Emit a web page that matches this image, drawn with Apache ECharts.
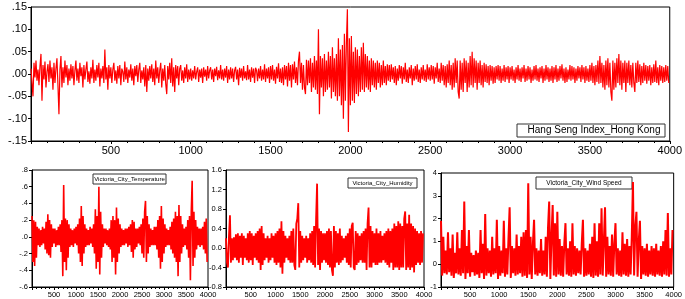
<!DOCTYPE html>
<html>
<head>
<meta charset="utf-8">
<script src="https://cdn.jsdelivr.net/npm/echarts@6/dist/echarts.min.js"></script>
<style>
    html, body { margin: 0; padding: 0; background: #fff; }
    #chart { width: 685px; height: 299px; }
</style>
</head>
<body>
<div id="chart"></div>
<script>
// 数据：每个序列按固定步长取样 (观测序号 = 下标 * 步长)
const hsiStep = 6.25;
const cityStep = 20;

// Hang Seng Index_Hong Kong 收益率
const hsiReturns = [
    .012, -.02, -.05, .025, -.008, .03, -.015, .01, -.025, .018, .045, -.06, .02, -.012, .028, -.03, .005, .022, -.018, .03,
    -.01, .015, -.035, .025, -.02, .012, .035, -.025, -.09, .01, .04, -.03, .015, -.02, .03, -.008, .02, -.025, .012, -.015,
    .022, -.01, .018, -.025, .008, .03, -.015, .012, -.02, .025, -.005, .015, -.03, .02, -.012, .01, .028, -.018, .006, -.022,
    .015, -.01, .032, -.02, .01, -.015, .02, -.008, .025, -.028, .012, -.01, .018, -.02, .055, -.012, .015, -.035, .02, -.01,
    .015, -.02, .01, .025, -.015, .008, -.022, .018, -.01, .02, -.025, .012, .005, -.018, .028, -.012, .015, -.02, .01, -.008,
    .022, -.015, .012, -.025, .018, -.005, .02, -.018, .01, .025, -.02, .008, -.012, .015, -.028, .02, -.04, .012, -.015, .018,
    -.01, .022, -.018, .012, -.025, .03, -.01, .015, -.02, .008, .025, -.03, .012, -.015, .02, -.022, -.045, .018, -.012, .025,
    -.02, .035, -.028, .015, -.04, .02, -.01, .018, -.025, .012, .02, -.015, .008, -.02, .015, -.01, .022, -.018, .01, -.012,
    .012, -.015, .008, -.01, .018, -.012, .005, .015, -.018, .01, -.008, .012, -.02, .015, -.006, .01, -.015, .018, -.01, .008,
    .015, -.012, .01, -.018, .012, -.005, .016, -.014, .008, -.01, .02, -.012, .01, -.015, .012, -.008, .018, -.02, .01, -.012,
    .015, -.01, .012, -.018, .008, .016, -.012, .01, -.025, .014, -.008, .012, -.015, .018, -.01, .006, -.014, .02, -.012, .01,
    -.018, .015, -.008, .012, -.02, .014, .008, -.016, .012, -.01, .018, -.015, .01, -.012, .022, -.018, .012, -.01, .015, -.02,
    .018, -.012, .02, -.015, .01, -.022, .016, -.01, .024, -.018, .012, -.02, .015, -.025, .02, -.012, .018, -.028, .025, -.015,
    .02, -.03, .022, -.012, .028, -.02, .015, -.025, .03, .05, -.02, .025, -.035, .02, -.03, -.045, .032, -.025, .03, -.02,
    .035, -.04, .025, -.03, .04, -.035, .03, -.045, .1, -.09, .04, -.03, .035, -.05, .045, -.04, .03, -.035, .05, -.03,
    .04, -.055, .06, -.04, .035, -.05, .045, -.06, .08, -.05, .055, -.07, .065, -.1, .09, -.06, .07, .145, -.13, .08,
    -.07, .085, -.06, .05, -.065, .06, -.045, .055, -.05, .04, -.04, .06, -.035, .07, -.04, .045, -.03, .04, -.035, .03,
    -.04, .035, -.025, .03, -.03, .025, -.035, .03, -.02, .025, -.03, .02, -.025, .03, -.02, .018, -.025, .022, -.015, .02,
    -.018, .022, -.012, .015, -.02, .018, -.025, .012, -.015, .02, -.01, .018, -.022, .015, -.012, .025, -.018, .01, -.02, .015,
    -.01, .02, -.025, .012, -.015, .018, -.012, .022, -.018, .01, -.02, .015, -.012, .02, -.015, .01, -.018, .022, -.012, .015,
    -.015, .02, -.012, .018, -.022, .015, -.01, .025, -.018, .012, -.02, .025, -.015, .02, -.025, .018, -.03, .022, -.02, .03,
    -.025, .02, -.035, .025, -.03, .035, -.02, .03, -.04, -.055, .03, -.035, .025, -.04, .035, -.02, .03, -.04, .025, -.03,
    .04, -.025, .05, -.03, .035, -.02, .03, -.035, .025, -.02, .03, -.025, .02, -.03, .025, -.018, .022, -.02, .018, -.025,
    .02, -.015, .018, -.022, .015, -.02, .018, -.012, .02, -.015, .018, -.02, .012, -.015, .02, -.018, .015, -.012, .018, -.02,
    .015, -.012, .018, -.015, .01, -.02, .015, -.012, .02, -.015, .012, -.018, .015, -.01, .02, -.018, .012, -.015, .018, -.012,
    .015, -.02, .01, -.015, .018, -.012, .02, -.015, .012, -.018, .015, -.01, .018, -.02, .012, -.015, .02, -.012, .015, -.018,
    .012, -.015, .018, -.02, .015, -.012, .02, -.018, .012, -.015, .018, -.01, .022, -.015, .012, -.02, .015, -.018, .01, -.012,
    .02, -.015, .018, -.012, .015, -.02, .012, -.015, .018, -.01, .015, -.018, .02, -.012, .015, -.02, .018, -.015, .012, -.018,
    .02, -.015, .025, -.02, .018, -.025, .02, -.018, .03, -.022, .04, -.02, .025, -.03, .02, -.035, .03, -.025, .035, -.03,
    .025, -.04, -.06, .03, -.035, .025, -.03, .035, -.02, .045, -.025, .03, -.035, .025, -.02, .03, -.04, .025, -.02, .03,
    -.025, .02, -.03, .025, -.02, -.04, .025, -.02, .03, -.018, .022, -.025, .018, -.02, .025, -.015, .02, -.022, .018, -.015,
    .02, -.025, .015, -.02, .022, -.018, .03, -.02, .015, -.025, .02, -.015, .018, -.02, .015, -.018, .02, -.015, .018, -.02
];

// Victoria_City_Temperature
const tempValues = [
    .25, -.3, .2, -.35, .18, -.25, .12, -.1, .1, -.12, .08, -.1, .12, -.08, .1, -.15, .18, -.2, .27, -.22,
    .2, -.25, .15, -.12, .1, -.08, .1, -.12, .08, -.1, .12, -.1, .15, -.18, .2, -.47, .62, -.3, .22, -.4,
    .2, -.25, .15, -.12, .1, -.1, .08, -.12, .1, -.08, .12, -.1, .15, -.2, .22, -.3, .37, -.35, .25, -.2,
    .15, -.12, .1, -.1, .08, -.1, .12, -.08, .1, -.12, .15, -.2, .33, -.38, .25, -.3, .6, -.45, .3, -.25,
    .15, -.12, .1, -.08, .1, -.1, .08, -.12, .1, -.15, .2, -.3, .25, -.25, .2, -.45, .35, -.3, .22, -.2,
    .15, -.12, .1, -.1, .08, -.1, .1, -.08, .1, -.12, .12, -.1, .15, -.18, .2, -.25, .18, -.15, .1, -.12,
    .1, -.08, .12, -.1, .15, -.2, .22, -.25, .3, .43, -.3, .25, -.2, .15, -.12, .1, -.1, .08, -.1, .12,
    -.1, .12, -.15, .2, -.25, .25, -.38, .37, -.3, .22, -.2, .15, -.12, .1, -.1, .08, -.1, .12, -.15, .18,
    -.2, .22, -.25, .3, -.3, .25, -.47, .38, -.3, .25, -.2, .15, -.12, .1, -.1, .12, -.15, .2, -.25, .25,
    -.52, .3, .67, -.35, .3, -.25, .2, -.15, .12, -.1, .1, -.12, .1, -.1, .12, -.15, .18, -.2, .22, -.3
];

// Victoria_City_Humidity
const humidityValues = [
    .2, -.3, -.4, .25, .67, -.3, .2, -.25, .22, -.2, .28, -.25, .3, -.3, .25, -.2, .3, -.35, .25, -.2,
    .2, -.25, .3, -.3, .35, -.25, .3, -.35, .25, -.2, .3, -.25, .35, -.3, .4, -.45, .45, -.35, .3, -.25,
    .2, -.2, .25, -.3, .2, -.25, .3, -.2, .25, -.3, .3, -.35, .35, -.3, .4, -.4, .55, -.53, .35, -.3,
    .25, -.2, .2, -.25, .25, -.3, .35, -.3, .4, -.35, -.45, .5, .6, .92, -.4, .35, -.3, .25, -.25, .2,
    -.2, .25, -.3, .2, -.25, .3, -.3, .35, -.35, .45, -.4, .6, 1.32, -.35, .4, -.45, .35, -.3, .3, -.25,
    .3, -.3, .35, -.35, .4, -.4, .35, -.45, -.57, .45, -.4, .35, -.3, .3, -.35, .4, -.3, .25, -.25, .2,
    -.2, .25, -.3, .3, -.35, .4, -.4, .45, .52, -.4, -.45, .35, -.35, .3, -.3, .25, -.25, .3, -.3, .35,
    -.3, .4, -.45, .5, .83, -.4, .45, -.4, .35, -.3, .3, -.35, .4, -.35, .3, -.3, .35, -.3, .25, -.25,
    .3, -.3, .35, -.35, .4, -.4, .35, -.3, .4, -.45, .5, -.4, .45, -.4, .55, -.45, .5, -.4, .45, -.4,
    .6, .75, -.45, .5, -.4, .68, -.45, .5, -.4, .45, -.5, .4, -.35, .35, -.3, .3, -.35, .35, -.3, .3
];

// Victoria_City_Wind Speed
const windValues = [
    1.9, -.5, 1.2, -.4, .6, -.45, 1.4, -.35, .7, -.5, 1.3, -.6, .5, -.4, 1.4, -.45, .7, -.5, 1.5, -.4,
    2.75, -.65, .8, -.4, 1.5, -.55, .5, -.35, .4, -.5, .6, -.45, .5, -.6, 1.5, -.4, .9, -.65, 2.2, -.5,
    .7, -.4, .6, -.55, 1.2, -.45, .7, -.4, 1.95, -.65, .8, -.5, .6, -.4, 1.9, -.55, .7, -.45, 1.1, 2.5,
    -.6, .8, -.4, .7, -.5, 1.3, -.45, .8, -.4, 1.2, -.55, 1.4, -.5, 1.5, -.6, 3.55, -.45, 1.2, -.65, .9,
    1.95, -.45, .7, -.5, .6, -.4, 1.1, -.5, .6, -.45, 1.2, -.55, 1.6, 2.75, -.65, 1.2, 2.6, -.5, 1.8, -.55,
    2.3, -.45, 1.1, -.5, .8, -.55, .9, 1.8, -.45, .7, -.5, 1.0, -.55, 1.8, -.45, .8, -.5, .7, -.4, .6,
    -.45, .9, 1.95, -.55, .7, -.5, .6, -.45, .9, -.55, 1.2, -.6, 1.8, -.5, 1.0, -.55, 1.8, -.45, 2.45, -.5,
    1.0, 2.5, -.55, 1.2, -.45, .8, -.5, 1.3, -.55, .9, 1.8, -.45, .7, -.5, .6, -.55, 1.4, -.45, .9, -.5,
    1.1, -.55, .8, -.45, 1.2, 3.6, -.5, 1.6, 2.3, -.55, 1.0, 1.9, -.65, .8, -.45, .7, -.5, .9, -.55, .6,
    -.45, .8, -.5, .7, -.55, .9, -.45, .6, -.5, .8, -.55, 1.0, -.45, 1.5, -.5, 2.25, -.55, .7, -.45, 1.5
];

// 坐标轴范围 [min, max, interval]
const xRange = [0, 4000, 500];
const hsiTicks = [-0.15, 0.15, 0.05];
const tempTicks = [-0.6, 0.8, 0.2];
const humidityTicks = [-0.8, 1.6, 0.4];
const windTicks = [-1, 4, 1];

const RED = '#ff0000';
const FONT = 'Liberation Sans, Arial, sans-serif';

function toPairs(values, step) {
    return values.map((v, i) => [i * step, v]);
}

// 去掉前导零: 0.15 -> .15, -0.05 -> -.05
function noLeadZero(digits) {
    return function (v) {
        return v.toFixed(digits).replace('0.', '.');
    };
}

function makeXAxis(gridIndex, fontSize) {
    return {
        type: 'value', gridIndex,
        min: xRange[0], max: xRange[1], interval: xRange[2],
        axisLine: { show: true, onZero: false, lineStyle: { color: '#000', width: 1 } },
        axisTick: { show: true, length: 3, lineStyle: { color: '#000' } },
        minorTick: { show: true, splitNumber: 5, length: 2, lineStyle: { color: '#000' } },
        splitLine: { show: false },
        axisLabel: {
            color: '#000', fontFamily: FONT, fontSize, margin: 4,
            formatter: v => (v === 0 ? '' : String(v))
        }
    };
}

function makeYAxis(gridIndex, ticks, fontSize, formatter) {
    return {
        type: 'value', gridIndex,
        min: ticks[0], max: ticks[1], interval: ticks[2],
        axisLine: { show: true, onZero: false, lineStyle: { color: '#000', width: 1 } },
        axisTick: { show: true, length: 3, lineStyle: { color: '#000' } },
        splitLine: { show: false },
        axisLabel: { color: '#000', fontFamily: FONT, fontSize, margin: 4, formatter }
    };
}

function makeSeries(index, values, step, width) {
    return {
        type: 'line', xAxisIndex: index, yAxisIndex: index,
        data: toPairs(values, step),
        showSymbol: false, symbol: 'none', sampling: null,
        lineStyle: { color: RED, width },
        silent: true
    };
}

// 图例框 (矩形 + 文字)
function legendBox(x, y, w, h, text, fontSize, shift) {
    return {
        type: 'group',
        children: [
            { type: 'rect', shape: { x, y, width: w, height: h }, style: { fill: '#fff', stroke: '#333', lineWidth: 1 } },
            { type: 'text', x: x + w / 2 + shift, y: y + h / 2, style: { text, fill: '#000', font: fontSize + 'px ' + FONT, align: 'center', verticalAlign: 'middle' } }
        ]
    };
}

const chart = echarts.init(document.getElementById('chart'), null, { renderer: 'canvas' });

const grids = [
    { left: 31, top: 7, width: 640, height: 134 },
    { left: 32, top: 170, width: 176, height: 117 },
    { left: 226, top: 170, width: 198, height: 117 },
    { left: 441, top: 173, width: 236, height: 114 }
].map(g => Object.assign({ show: true, borderColor: '#000', borderWidth: 1, backgroundColor: '#fff' }, g));

chart.setOption({
    animation: false,
    backgroundColor: '#fff',
    grid: grids,
    xAxis: [
        makeXAxis(0, 11),
        makeXAxis(1, 7.5),
        makeXAxis(2, 7.5),
        makeXAxis(3, 7.5)
    ],
    yAxis: [
        makeYAxis(0, hsiTicks, 11, noLeadZero(2)),
        makeYAxis(1, tempTicks, 7.5, noLeadZero(1)),
        makeYAxis(2, humidityTicks, 7.5, v => v.toFixed(1)),
        makeYAxis(3, windTicks, 7.5, v => String(Math.round(v)))
    ],
    series: [
        makeSeries(0, hsiReturns, hsiStep, 1.2),
        makeSeries(1, tempValues, cityStep, 1.6),
        makeSeries(2, humidityValues, cityStep, 1.8),
        makeSeries(3, windValues, cityStep, 2)
    ],
    graphic: [
        legendBox(517, 124, 148, 13, 'Hang Seng Index_Hong Kong', 10, 3),
        legendBox(93, 174, 73, 10, 'Victoria_City_Temperature', 6, 0),
        legendBox(348, 178, 69, 10, 'Victoria_City_Humidity', 6, 0),
        legendBox(536, 177, 96, 12, 'Victoria_City_Wind Speed', 6.5, 0)
    ]
});
</script>
</body>
</html>
